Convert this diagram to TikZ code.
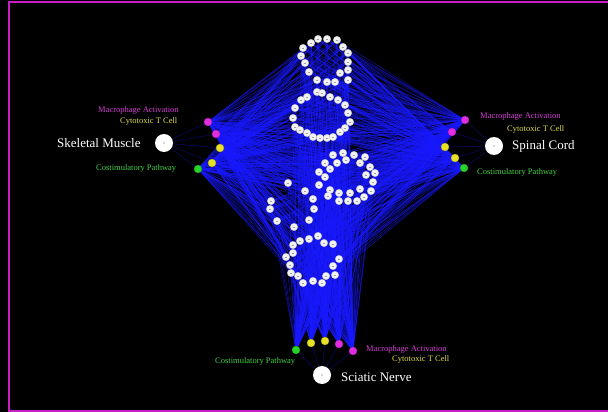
\documentclass[tikz,border=0pt]{standalone}
\usepackage{fontspec}
\setmainfont{Liberation Serif}
\pgfdeclarelayer{background}
\pgfsetlayers{background,main}
\definecolor{magc}{RGB}{225,45,225}
\definecolor{yelc}{RGB}{230,225,40}
\definecolor{grnc}{RGB}{40,210,40}
\definecolor{magt}{RGB}{215,60,215}
\definecolor{yelt}{RGB}{225,220,70}
\definecolor{grnt}{RGB}{70,210,70}
\definecolor{edgec}{RGB}{25,25,255}
\definecolor{framec}{RGB}{200,30,200}
\begin{document}
\begin{tikzpicture}[x=1pt,y=-1pt,
  gene/.style={circle, fill=white!90!gray, draw=gray!50, line width=0.3pt, minimum size=7.5pt, inner sep=0pt,
    path picture={\draw[gray!75, line width=0.5pt] ([xshift=-1.4pt]path picture bounding box.center) -- ([xshift=1.4pt]path picture bounding box.center);}},
  hub/.style={circle, fill=white, minimum size=18pt, inner sep=0pt,
    path picture={\fill[gray!60] (path picture bounding box.center) circle (0.8pt);}},
  cnode/.style={circle, minimum size=8pt, inner sep=0pt, fill=#1, draw=#1!70!black, line width=0.3pt},
  small/.style={font=\fontsize{8.5}{10}\selectfont, inner sep=0pt, anchor=west},
  big/.style={font=\fontsize{13}{15}\selectfont, inner sep=0pt, anchor=west, text=white},
  edge/.style={edgec, line width=0.6pt, opacity=0.5},
  hubedge/.style={edgec!60!black, line width=0.5pt, opacity=0.7}
]
\begin{pgfonlayer}{background}
\fill[black] (0,0) rectangle (608,412);
\end{pgfonlayer}
\useasboundingbox (0,0) rectangle (608,412);
\draw[framec, line width=1.3pt] (612,2) -- (9,2) -- (9,411) -- (612,411);

% gene nodes
\foreach \x/\y [count=\i] in {
318/39,327/39,337/40,311/43,343/47,303/48,348/53,301/56,348/62,305/63,348/70,340/73,309/72,317/80,327/82,335/82,348/80,
317/92,322/93,307/97,330/97,338/100,301/100,345/105,295/108,348/113,293/118,350/122,295/127,345/128,300/130,340/132,307/133,313/137,320/138,327/138,333/137,
333/155,343/153,354/155,365/157,325/163,337/163,346/160,360/163,370/167,375/173,319/172,330/169,366/175,325/177,373/182,319/185,330/190,371/191,339/193,350/193,360/189,328/196,339/201,348/201,357/201,364/197,
288/183,305/191,313/199,271/201,270/209,314/209,277/221,309/220,294/227,
300/241,309/239,318/236,293/245,324/243,333/244,293/253,339/259,286/257,333/266,290/265,335/275,291/273,298/276,326/276,303/283,313/281,322/283}
  \node[gene] (g\i) at (\x,\y) {};

% hubs
\node[hub] (SM) at (164,143) {};
\node[hub] (SC) at (494,146) {};
\node[hub] (SN) at (322,375) {};

% coloured nodes
\node[cnode=magc] (L1) at (208,122) {};
\node[cnode=magc] (L2) at (216,134) {};
\node[cnode=yelc] (L3) at (220,148) {};
\node[cnode=yelc] (L4) at (212,163) {};
\node[cnode=grnc] (L5) at (198,169) {};
\node[cnode=magc] (R1) at (465,120) {};
\node[cnode=magc] (R2) at (452,132) {};
\node[cnode=yelc] (R3) at (445,147) {};
\node[cnode=yelc] (R4) at (455,158) {};
\node[cnode=grnc] (R5) at (464,168) {};
\node[cnode=grnc] (B1) at (296,350) {};
\node[cnode=yelc] (B2) at (311,343) {};
\node[cnode=yelc] (B3) at (325,341) {};
\node[cnode=magc] (B4) at (339,344) {};
\node[cnode=magc] (B5) at (353,351) {};

% labels
\node[small, text=magt] (lt1) at (98,110) {Macrophage Activation};
\node[small, text=yelt] (lt2) at (120,121) {Cytotoxic T Cell};
\node[big] (lt3) at (57,143) {Skeletal Muscle};
\node[small, text=grnt] (lt4) at (96,168) {Costimulatory Pathway};
\node[small, text=magt] (rt1) at (480,116) {Macrophage Activation};
\node[small, text=yelt] (rt2) at (507,129) {Cytotoxic T Cell};
\node[big] (rt3) at (512,146) {Spinal Cord};
\node[small, text=grnt] (rt4) at (477,172) {Costimulatory Pathway};
\node[small, text=grnt] (bt1) at (215,361) {Costimulatory Pathway};
\node[small, text=magt] (bt2) at (366,349) {Macrophage Activation};
\node[small, text=yelt] (bt3) at (392,359) {Cytotoxic T Cell};
\node[big] (bt4) at (341,377) {Sciatic Nerve};

\begin{pgfonlayer}{background}
\foreach \c in {L1,L2,L3,L4,L5,R1,R2,R3,R4,R5,B1,B2,B3,B4,B5}
  \foreach \i in {1,...,90}
    \draw[edge] (\c) -- (g\i);
\foreach \c in {L1,L2,L3,L4,L5} \draw[hubedge] (SM) -- (\c);
\foreach \c in {R1,R2,R3,R4,R5} \draw[hubedge] (SC) -- (\c);
\foreach \c in {B1,B2,B3,B4,B5} \draw[hubedge] (SN) -- (\c);
\end{pgfonlayer}
\end{tikzpicture}
\end{document}
